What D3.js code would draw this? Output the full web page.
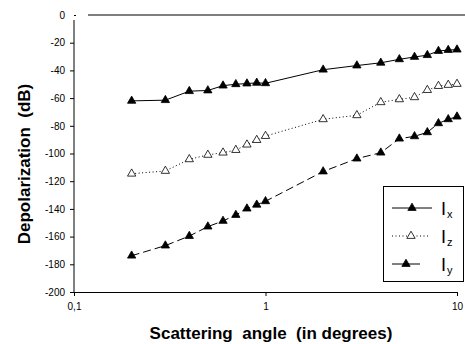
<!DOCTYPE html>
<html>
<head>
<meta charset="utf-8">
<script src="https://cdn.jsdelivr.net/npm/d3@7"></script>
<style>
  body { margin: 0; background: #fff; }
  text { font-family: "Liberation Sans", Arial, sans-serif; }
</style>
</head>
<body>
<svg id="chart" width="465" height="344"></svg>
<script>
// scattering angles (deg) shared by all three series
const angles = [0.2, 0.3, 0.4, 0.5, 0.6, 0.7, 0.8, 0.9, 1, 2, 3, 4, 5, 6, 7, 8, 9, 10]
const ix = [-62, -61.5, -55, -54.5, -51, -50, -49.5, -49, -49.3, -39.5, -36.5, -34.5, -32, -30.3, -29, -26, -25.3, -25]
const iz = [-114.6, -112.6, -104.2, -101, -99.4, -97.5, -93.6, -90.3, -87.4, -75.3, -72.4, -63, -60.9, -59.4, -54.2, -51.3, -50.5, -49.8]
const iy = [-173.8, -166.5, -159.6, -152.8, -148.7, -144.4, -139.8, -137, -134.5, -113, -103.7, -99.4, -89.3, -87.6, -84.7, -78.2, -75.3, -73.4]
const yTicks = [0, -20, -40, -60, -80, -100, -120, -140, -160, -180, -200]
const xTicks = [0.1, 1, 10]
const xTickLabels = ["0,1", "1", "10"]
const seriesNames = ["x", "z", "y"]

const W = 465, H = 344
const margin = {top: 15, right: 8, bottom: 52, left: 74}

let svg = d3.select("#chart")

let x = d3.scaleLog().domain([0.1, 10]).range([margin.left, W - margin.right])
let y = d3.scaleLinear().domain([-200, 0]).range([H - margin.bottom, margin.top])

// y axis
let yAxis = svg.append("g")
    .attr("transform", "translate(" + margin.left + ",0)")
    .call(d3.axisLeft(y).tickValues(yTicks).tickSize(4).tickSizeOuter(0).tickPadding(5)
      .tickFormat(d => d))
yAxis.select(".domain").remove()
yAxis.selectAll("text").style("font-size", "10px").style("fill", "#000")
yAxis.append("line")//axis line starts a bit under the 0 tick like the original
    .attr("x1", 0).attr("x2", 0)
    .attr("y1", y(0) + 5).attr("y2", y(-200))
    .attr("stroke", "#000")
yAxis.select(".tick line").attr("x2", 2) // the 0 tick pokes through

// the 0 dB line on top
svg.append("line")
    .attr("x1", x.range()[0] + 14).attr("x2", W)
    .attr("y1", y(0)).attr("y2", y(0))
    .attr("stroke", "#000").attr("stroke-width", 1.2)

// x axis
let xAxis = svg.append("g")
    .attr("transform", "translate(0," + y(-200) + ")")
    .call(d3.axisBottom(x).tickValues(xTicks).tickSize(4).tickSizeOuter(0).tickPadding(7)
      .tickFormat((d, i) => xTickLabels[i]))
xAxis.selectAll("text").style("font-size", "10px").style("fill", "#000")
xAxis.select(".domain").attr("stroke-width", 1.2)

// series
const series = [
  {name: "x", values: ix, dash: null, legendDash: null, fill: "#000"},
  {name: "z", values: iz, dash: "1,2.5", legendDash: "1,2.5", fill: "#fff"},
  {name: "y", values: iy, dash: "8,4", legendDash: null, fill: "#000"}
]
const tri = d3.symbol().type(d3.symbolTriangle).size(30)

series.forEach(function(s) {
  let pts = angles.map((a, i) => [a, s.values[i]])
  svg.append("path")
      .datum(pts)
      .attr("fill", "none")
      .attr("stroke", "#000")
      .attr("stroke-width", 1)
      .attr("stroke-dasharray", s.dash)
      .attr("d", d3.line().x(d => x(d[0])).y(d => y(d[1])))
  svg.append("g").selectAll("path")
      .data(pts)
      .enter().append("path")
      .attr("d", tri)
      .attr("transform", d => "translate(" + x(d[0]) + "," + y(d[1]) + ")")
      .attr("fill", s.fill)
      .attr("stroke", "#000")
      .attr("stroke-width", 0.8)
})

// legend
let legend = svg.append("g").attr("transform", "translate(383,186)")
legend.append("rect")
    .attr("x", 0.5).attr("y", 0.5)
    .attr("width", 80).attr("height", 95)
    .attr("fill", "#fff").attr("stroke", "#000")
const legendLen = [40, 38, 28]
series.forEach(function(s, i) {
  let row = legend.append("g").attr("transform", "translate(0," + (22 + i * 28) + ")")
  row.append("line")
      .attr("x1", 9).attr("x2", 9 + legendLen[i])
      .attr("stroke", "#000")
      .attr("stroke-dasharray", s.legendDash)
  row.append("path")
      .attr("d", tri)
      .attr("transform", "translate(" + (9 + legendLen[i] / 2) + ",0)")
      .attr("fill", s.fill).attr("stroke", "#000").attr("stroke-width", 0.8)
  let t = row.append("text")
      .attr("x", 58).attr("y", 7)
      .style("font-size", "18px")
  t.append("tspan").text("I")
  t.append("tspan").text(seriesNames[i])
      .attr("dx", 1).attr("dy", 3)
      .style("font-size", "11px")
})

// axis titles
svg.append("text")
    .attr("transform", "translate(30,164) rotate(-90)")
    .attr("text-anchor", "middle")
    .style("font-size", "17px").style("font-weight", "bold")
    .style("white-space", "pre")
    .text("Depolarization  (dB)")

svg.append("text")
    .attr("x", 271).attr("y", 339)
    .attr("text-anchor", "middle")
    .style("font-size", "17px").style("font-weight", "bold")
    .style("white-space", "pre")
    .text("Scattering  angle  (in degrees)")
</script>
</body>
</html>
